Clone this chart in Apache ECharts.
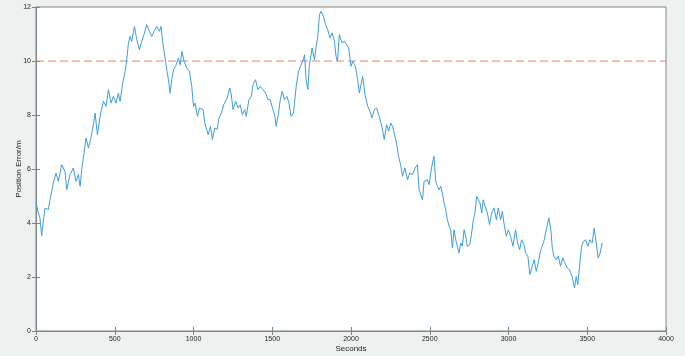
<!DOCTYPE html>
<html>
<head>
<meta charset="utf-8">
<script src="https://cdn.jsdelivr.net/npm/echarts@6/dist/echarts.min.js"></script>
<style>
  html, body { margin: 0; padding: 0; background: #eef1f0; }
  #chart { width: 685px; height: 356px; }
</style>
</head>
<body>
<div id="chart"></div>
<script>
// time axis (s) and position error (m)
var seconds = [0,15,25,36,47,57,78,89,110,127,142,163,184,195,216,237,254,269,280,290,
  305,318,333,347,364,375,390,407,428,445,460,477,491,508,523,534,551,566,576,587,
  597,608,625,640,657,671,686,703,720,735,750,767,784,794,805,820,830,841,851,862,
  873,890,904,915,926,940,957,974,989,1000,1010,1025,1038,
  1061,1072,1093,1108,1120,1135,1150,1162,1177,1192,1209,1219,1230,1240,1251,1268,1283,1297,1310,1325,
  1335,1352,1367,1378,1394,1409,1424,1441,1458,1473,1487,1504,1517,1525,1538,1551,1563,1578,1593,1606,
  1620,1635,1652,1667,1679,1694,1705,1715,1726,1736,1753,1768,1779,1789,1800,1810,1825,1838,1852,1867,
  1880,1895,1905,1914,1926,1943,1958,1973,1985,2000,2011,2028,2042,2053,2063,2074,2089,2106,2120,2133,
  2148,2163,2179,2196,2211,2226,2239,2253,2264,2274,2289,2302,2317,2327,2342,2359,2373,2390,2407,2422,
  2432,2443,2454,2464,2475,2485,2496,2506,2517,2527,2538,2549,2559,2570,2580,2591,2601,2612,2623,2633,
  2644,2654,2665,2675,2686,2697,2707,2718,2728,2739,2754,2766,2777,2787,2798,2808,2819,2830,2840,2851,
  2866,2880,2893,2908,2923,2935,2950,2961,2971,2986,2999,3013,3028,3045,3058,3071,3083,3098,3109,3123,
  3136,3151,3163,3176,3189,3202,3214,3227,3240,3256,3269,3278,3288,3303,3316,3330,3345,3358,3373,3387,
  3404,3419,3430,3440,3451,3464,3476,3489,3504,3516,3531,3544,3557,3569,3582,3595];

var posError = [4.74,4.37,4.19,3.53,4.1,4.55,4.5,4.86,5.48,5.85,5.54,6.16,5.91,5.23,5.79,6.04,5.54,5.79,5.36,5.98,
  6.59,7.15,6.78,7.09,7.64,8.07,7.27,7.95,8.51,8.32,8.94,8.44,8.69,8.44,8.81,8.51,9.19,9.62,10.05,10.67,
  10.91,10.73,11.28,10.79,10.42,10.73,10.98,11.35,11.1,10.91,11.1,11.28,11.1,11.28,10.67,10.11,9.68,9.31,8.81,9.31,
  9.68,9.86,10.11,9.86,10.36,9.99,9.74,9.62,9.06,8.32,8.44,7.95,8.26,
  8.2,7.7,7.27,7.58,7.09,7.52,7.46,7.89,8.07,8.38,8.57,8.75,9.0,8.75,8.2,8.51,8.26,8.38,8.01,8.2,
  7.95,8.57,8.69,9.12,9.31,8.94,9.06,8.94,8.81,8.57,8.57,8.2,7.95,7.58,8.01,8.57,8.88,8.57,8.69,8.44,
  7.95,8.07,9.06,9.62,9.8,9.99,10.23,9.31,8.94,9.86,10.48,10.05,10.54,10.91,11.72,11.84,11.65,11.35,11.16,10.85,
  11.04,10.73,10.17,9.99,10.98,10.67,10.73,10.6,10.48,9.8,9.99,9.8,9.31,8.81,8.75,9.43,8.75,8.32,8.14,7.89,
  8.2,8.26,7.95,7.58,7.09,7.64,7.4,7.7,7.58,7.33,6.96,6.47,6.1,5.73,6.04,5.6,5.85,5.79,6.04,6.16,
  5.23,5.17,4.86,5.54,5.48,5.6,5.42,5.85,6.22,6.47,5.54,5.36,5.23,5.36,5.11,4.74,4.49,4.12,3.88,3.75,
  3.07,3.75,3.38,3.14,2.89,3.26,3.14,3.75,3.51,3.14,3.2,3.63,4.12,4.37,4.99,5.05,4.74,4.37,4.86,4.62,
  4.37,3.94,4.37,4.56,4.12,4.56,4.12,4.43,4.0,3.51,3.75,3.51,3.14,3.75,3.26,3.01,3.38,3.2,2.89,2.77,
  2.09,2.4,2.64,2.21,2.52,2.95,3.14,3.38,3.75,4.19,3.75,3.07,2.77,2.64,2.77,2.4,2.7,2.52,2.33,2.27,
  2.02,1.59,2.02,1.72,2.4,3.14,3.32,3.38,3.14,3.38,3.26,3.81,3.26,2.7,2.89,3.26];

// threshold line at 10 m across the whole axis
var thresholdX = [0, 4000];
var thresholdY = [10, 10];

var chart = echarts.init(document.getElementById('chart'));
var axisGray = '#7d8786';
var textColor = '#262626';
var font = 'Liberation Sans, Arial, sans-serif';

var lineData = seconds.map(function (s, i) { return [s, posError[i]]; });
var limitData = thresholdX.map(function (s, i) { return [s, thresholdY[i]]; });

var option = {
  backgroundColor: '#eef1f0',
  animation: false,
  grid: {
    left: 36, right: 19, top: 7, bottom: 25,
    outerBoundsMode: 'none',
    containLabel: false,
    show: true, backgroundColor: '#ffffff', borderColor: axisGray, borderWidth: 1
  },
  xAxis: [
    {
      type: 'value', min: 0, max: 4000, interval: 500,
      name: 'Seconds', nameLocation: 'middle', nameGap: 14, nameMoveOverlap: false,
      nameTextStyle: { color: textColor, fontSize: 8, fontFamily: font },
      axisLine: { lineStyle: { color: axisGray } },
      axisTick: { inside: true, length: 4, lineStyle: { color: axisGray } },
      axisLabel: {
        color: textColor, fontSize: 7, fontFamily: font, margin: 5,
        formatter: function (v) { return String(v); }
      },
      splitLine: { show: false }
    },
    {
      type: 'value', min: 0, max: 4000, interval: 500, position: 'top',
      axisLine: { lineStyle: { color: axisGray } },
      axisTick: { inside: true, length: 4, lineStyle: { color: axisGray } },
      axisLabel: { show: false }, splitLine: { show: false }
    }
  ],
  yAxis: [
    {
      type: 'value', min: 0, max: 12, interval: 2,
      name: 'Position Error/m', nameLocation: 'middle', nameGap: 13, nameMoveOverlap: false,
      nameTextStyle: { color: textColor, fontSize: 8, fontFamily: font },
      axisLine: { show: true, lineStyle: { color: axisGray } },
      axisTick: { show: true, inside: true, length: 4, lineStyle: { color: axisGray } },
      axisLabel: { color: textColor, fontSize: 7, fontFamily: font, margin: 5 },
      splitLine: { show: false }
    },
    {
      type: 'value', min: 0, max: 12, interval: 2, position: 'right',
      axisLine: { show: true, lineStyle: { color: axisGray } },
      axisTick: { show: true, inside: true, length: 4, lineStyle: { color: axisGray } },
      axisLabel: { show: false }, splitLine: { show: false }
    }
  ],
  series: [
    {
      name: 'Limit',
      type: 'line',
      data: limitData,
      showSymbol: false,
      silent: true,
      z: 1,
      lineStyle: { color: '#e8836b', type: [8, 4], width: 1 }
    },
    {
      name: 'Position Error',
      type: 'line',
      data: lineData,
      showSymbol: false,
      z: 2,
      lineStyle: { color: '#3d9de0', width: 1 }
    }
  ]
};

chart.setOption(option);
</script>
</body>
</html>
